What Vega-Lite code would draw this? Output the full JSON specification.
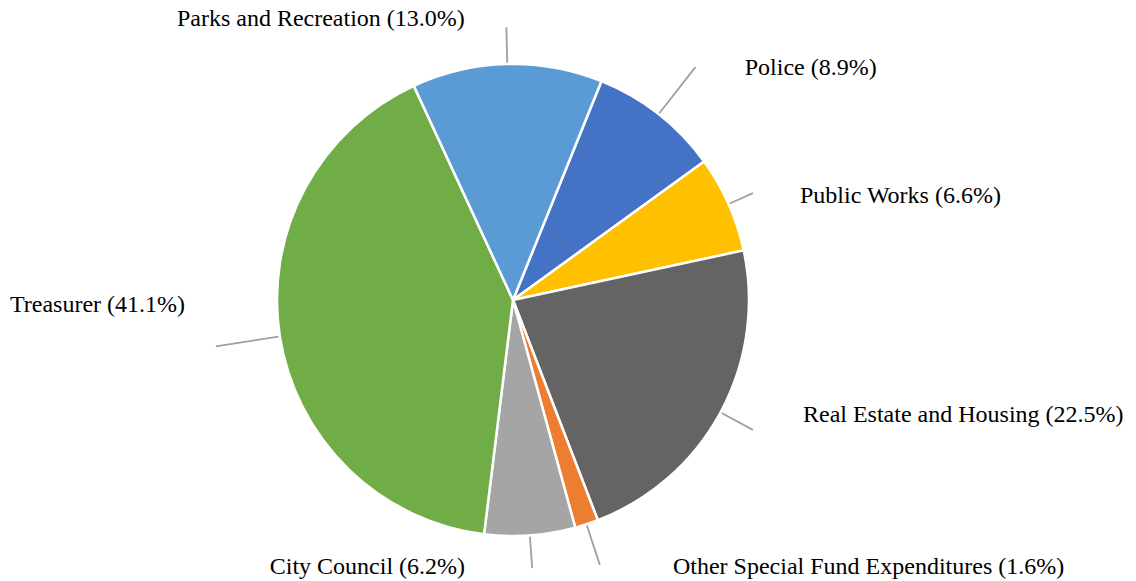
{
  "$schema": "https://vega.github.io/schema/vega-lite/v6.json",
  "width": 1026,
  "height": 562,
  "autosize": {"type": "none"},
  "padding": {"left": 0, "top": 19, "right": 110, "bottom": 0},
  "background": "white",
  "config": {"view": {"stroke": null}},
  "data": {
    "values": [
      {"cat": "Police", "value": 8.9},
      {"cat": "Public Works", "value": 6.6},
      {"cat": "Real Estate and Housing", "value": 22.5},
      {"cat": "Other Special Fund Expenditures", "value": 1.6},
      {"cat": "City Council", "value": 6.2},
      {"cat": "Treasurer", "value": 41.1},
      {"cat": "Parks and Recreation", "value": 13.0}
    ]
  },
  "transform": [
    {"window": [{"op": "sum", "field": "value", "as": "end"}], "frame": [null, 0]},
    {"calculate": "datum.end - datum.value", "as": "start"},
    {"calculate": "datum.end - datum.value / 2", "as": "mid"},
    {"calculate": "datum.mid + 0.02", "as": "mid2"},
    {"calculate": "datum.cat + ' (' + format(datum.value, '.1f') + '%)'", "as": "label"}
  ],
  "layer": [
    {
      "mark": {"type": "arc", "outerRadius": 236, "stroke": "white", "strokeWidth": 2.5},
      "encoding": {
        "theta": {"field": "start", "type": "quantitative", "stack": null, "scale": {"domain": [0, 99.9], "range": [0.384, 6.667]}},
        "theta2": {"field": "end"},
        "color": {
          "field": "cat", "type": "nominal", "legend": null,
          "scale": {
            "domain": ["Police", "Public Works", "Real Estate and Housing", "Other Special Fund Expenditures", "City Council", "Treasurer", "Parks and Recreation"],
            "range": ["#4472C4", "#FFC000", "#646464", "#ED7D31", "#A5A5A5", "#70AD47", "#5B9BD5"]
          }
        }
      }
    },
    {
      "transform": [{"filter": "datum.cat === 'Police'"}],
      "layer": [
        {"mark": {"type": "arc", "innerRadius": 238, "outerRadius": 295, "fill": "#A0A0A0", "stroke": "#A0A0A0", "strokeWidth": 1.5}, "encoding": {"theta": {"field": "mid", "type": "quantitative", "stack": null, "scale": {"domain": [0, 99.9], "range": [0.384, 6.667]}}, "theta2": {"field": "mid2"}}},
        {"mark": {"type": "text", "radius": 295, "align": "left", "baseline": "alphabetic", "dx": 50, "dy": 7.5, "font": "Liberation Serif", "fontSize": 24, "color": "black"}, "encoding": {"theta": {"field": "mid", "type": "quantitative", "stack": null, "scale": {"domain": [0, 99.9], "range": [0.384, 6.667]}}, "text": {"field": "label"}}}
      ]
    },
    {
      "transform": [{"filter": "datum.cat === 'Public Works'"}],
      "layer": [
        {"mark": {"type": "arc", "innerRadius": 238, "outerRadius": 262, "fill": "#A0A0A0", "stroke": "#A0A0A0", "strokeWidth": 1.5}, "encoding": {"theta": {"field": "mid", "type": "quantitative", "stack": null, "scale": {"domain": [0, 99.9], "range": [0.384, 6.667]}}, "theta2": {"field": "mid2"}}},
        {"mark": {"type": "text", "radius": 262, "align": "left", "baseline": "alphabetic", "dx": 47.7, "dy": 9.3, "font": "Liberation Serif", "fontSize": 24, "color": "black"}, "encoding": {"theta": {"field": "mid", "type": "quantitative", "stack": null, "scale": {"domain": [0, 99.9], "range": [0.384, 6.667]}}, "text": {"field": "label"}}}
      ]
    },
    {
      "transform": [{"filter": "datum.cat === 'Real Estate and Housing'"}],
      "layer": [
        {"mark": {"type": "arc", "innerRadius": 238, "outerRadius": 272, "fill": "#A0A0A0", "stroke": "#A0A0A0", "strokeWidth": 1.5}, "encoding": {"theta": {"field": "mid", "type": "quantitative", "stack": null, "scale": {"domain": [0, 99.9], "range": [0.384, 6.667]}}, "theta2": {"field": "mid2"}}},
        {"mark": {"type": "text", "radius": 272, "align": "left", "baseline": "alphabetic", "dx": 50.7, "dy": -7.1, "font": "Liberation Serif", "fontSize": 24, "color": "black"}, "encoding": {"theta": {"field": "mid", "type": "quantitative", "stack": null, "scale": {"domain": [0, 99.9], "range": [0.384, 6.667]}}, "text": {"field": "label"}}}
      ]
    },
    {
      "transform": [{"filter": "datum.cat === 'Other Special Fund Expenditures'"}],
      "layer": [
        {"mark": {"type": "arc", "innerRadius": 238, "outerRadius": 278, "fill": "#A0A0A0", "stroke": "#A0A0A0", "strokeWidth": 1.5}, "encoding": {"theta": {"field": "mid", "type": "quantitative", "stack": null, "scale": {"domain": [0, 99.9], "range": [0.384, 6.667]}}, "theta2": {"field": "mid2"}}},
        {"mark": {"type": "text", "radius": 278, "align": "left", "baseline": "alphabetic", "dx": 73.2, "dy": 9.9, "font": "Liberation Serif", "fontSize": 24, "color": "black"}, "encoding": {"theta": {"field": "mid", "type": "quantitative", "stack": null, "scale": {"domain": [0, 99.9], "range": [0.384, 6.667]}}, "text": {"field": "label"}}}
      ]
    },
    {
      "transform": [{"filter": "datum.cat === 'City Council'"}],
      "layer": [
        {"mark": {"type": "arc", "innerRadius": 238, "outerRadius": 268, "fill": "#A0A0A0", "stroke": "#A0A0A0", "strokeWidth": 1.5}, "encoding": {"theta": {"field": "mid", "type": "quantitative", "stack": null, "scale": {"domain": [0, 99.9], "range": [0.384, 6.667]}}, "theta2": {"field": "mid2"}}},
        {"mark": {"type": "text", "radius": 268, "align": "right", "baseline": "alphabetic", "dx": -67.2, "dy": 6.7, "font": "Liberation Serif", "fontSize": 24, "color": "black"}, "encoding": {"theta": {"field": "mid", "type": "quantitative", "stack": null, "scale": {"domain": [0, 99.9], "range": [0.384, 6.667]}}, "text": {"field": "label"}}}
      ]
    },
    {
      "transform": [{"filter": "datum.cat === 'Treasurer'"}],
      "layer": [
        {"mark": {"type": "arc", "innerRadius": 238, "outerRadius": 300, "fill": "#A0A0A0", "stroke": "#A0A0A0", "strokeWidth": 1.5}, "encoding": {"theta": {"field": "mid", "type": "quantitative", "stack": null, "scale": {"domain": [0, 99.9], "range": [0.384, 6.667]}}, "theta2": {"field": "mid2"}}},
        {"mark": {"type": "text", "radius": 300, "align": "right", "baseline": "alphabetic", "dx": -31.6, "dy": -34.7, "font": "Liberation Serif", "fontSize": 24, "color": "black"}, "encoding": {"theta": {"field": "mid", "type": "quantitative", "stack": null, "scale": {"domain": [0, 99.9], "range": [0.384, 6.667]}}, "text": {"field": "label"}}}
      ]
    },
    {
      "transform": [{"filter": "datum.cat === 'Parks and Recreation'"}],
      "layer": [
        {"mark": {"type": "arc", "innerRadius": 238, "outerRadius": 272, "fill": "#A0A0A0", "stroke": "#A0A0A0", "strokeWidth": 1.5}, "encoding": {"theta": {"field": "mid", "type": "quantitative", "stack": null, "scale": {"domain": [0, 99.9], "range": [0.384, 6.667]}}, "theta2": {"field": "mid2"}}},
        {"mark": {"type": "text", "radius": 272, "align": "right", "baseline": "alphabetic", "dx": -41.4, "dy": -2.1, "font": "Liberation Serif", "fontSize": 24, "color": "black"}, "encoding": {"theta": {"field": "mid", "type": "quantitative", "stack": null, "scale": {"domain": [0, 99.9], "range": [0.384, 6.667]}}, "text": {"field": "label"}}}
      ]
    }
  ]
}
